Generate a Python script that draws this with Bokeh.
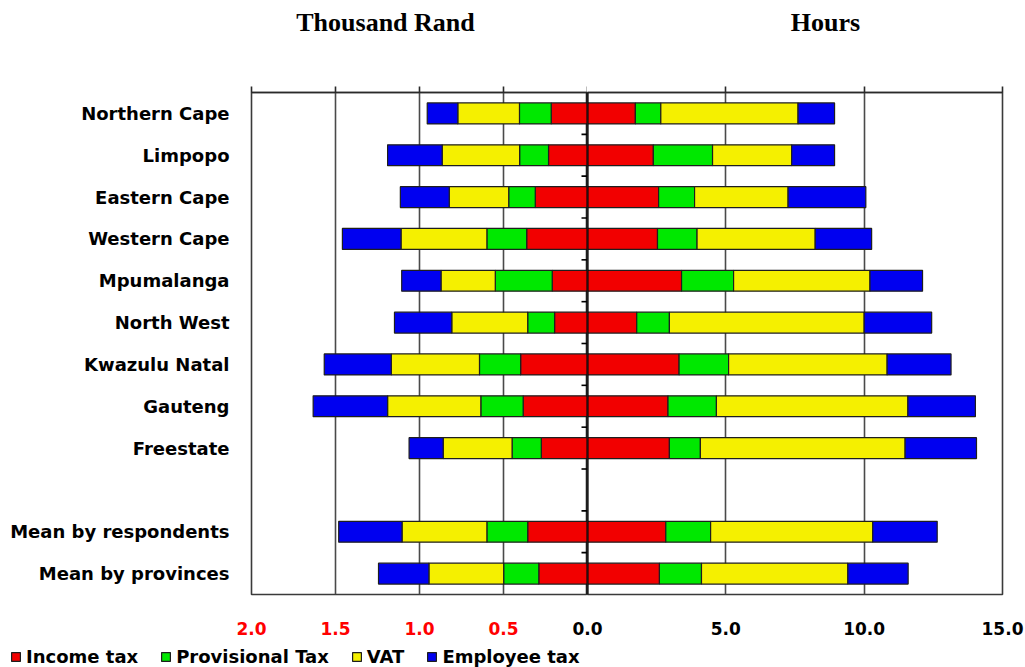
import numpy as np
from bokeh.plotting import figure
from bokeh.layouts import row, column
from bokeh.models import (Range1d, LinearAxis, FixedTicker, Span, Legend, LegendItem,
                          Grid, Label, LabelSet, ColumnDataSource)
from bokeh.core.properties import value
from bokeh.embed import file_html
from bokeh.resources import INLINE

# ---- data -------------------------------------------------------------
categories = ["Northern Cape", "Limpopo", "Eastern Cape", "Western Cape", "Mpumalanga",
              "North West", "Kwazulu Natal", "Gauteng", "Freestate",
              "Mean by respondents", "Mean by provinces"]
# row slot of each category (slot 9 is left empty as a separator)
slots = [0, 1, 2, 3, 4, 5, 6, 7, 8, 10, 11]

series = ["Income tax", "Provisional Tax", "VAT", "Employee tax"]

# compliance cost in thousand Rand
income_rand = [0.216, 0.232, 0.311, 0.362, 0.210, 0.196, 0.398, 0.383, 0.275, 0.356, 0.290]
prov_rand = [0.189, 0.172, 0.158, 0.237, 0.339, 0.160, 0.245, 0.252, 0.174, 0.243, 0.209]
vat_rand = [0.367, 0.461, 0.354, 0.511, 0.323, 0.452, 0.525, 0.555, 0.410, 0.505, 0.445]
emp_rand = [0.182, 0.325, 0.291, 0.349, 0.234, 0.341, 0.399, 0.443, 0.203, 0.377, 0.300]

# compliance time in hours
income_hours = [1.73, 2.38, 2.57, 2.53, 3.40, 1.78, 3.31, 2.91, 2.96, 2.83, 2.60]
prov_hours = [0.92, 2.14, 1.30, 1.43, 1.88, 1.18, 1.79, 1.75, 1.12, 1.62, 1.52]
vat_hours = [4.96, 2.86, 3.38, 4.27, 4.93, 7.04, 5.73, 6.92, 7.40, 5.86, 5.29]
emp_hours = [1.32, 1.55, 2.81, 2.04, 1.90, 2.44, 2.31, 2.44, 2.58, 2.33, 2.18]

rand_ticks = [2.0, 1.5, 1.0, 0.5]
hours_ticks = [0.0, 5.0, 10.0, 15.0]

# ---- styling / layout ---------------------------------------------------
colors = ["#f20000", "#00e800", "#f5f000", "#0000f0"]
RAND_MAX = 2.0
HOURS_MAX = 15.0
N_SLOTS = 12
LABEL_FONT = "DejaVu Sans"
TITLE_FONT = "Liberation Serif"
TOTAL_W = 1025
TITLE_H, MAIN_H, FOOT_H = 50, 562, 55
FRAME_TOP, FRAME_BOTTOM = 42, 18
LEFT_W = 587                      # the zero line sits at this x
RIGHT_W = TOTAL_W - LEFT_W
LEFT_BORDER, RIGHT_BORDER = 251, 23
BAR_LINE = dict(line_color="#1e1e1e", line_width=1.2)

px_per_rand = (LEFT_W - LEFT_BORDER) / RAND_MAX
px_per_hour = (RIGHT_W - RIGHT_BORDER) / HOURS_MAX
slot_y = [s + 0.5 for s in slots]


def bare_figure(height, x_range, y_range):
    f = figure(width=TOTAL_W, height=height, output_backend="svg", toolbar_location=None,
               x_range=x_range, y_range=y_range, x_axis_type=None, y_axis_type=None,
               min_border_left=0, min_border_right=0, min_border_top=0, min_border_bottom=0)
    f.outline_line_color = None
    f.grid.visible = False
    return f


def base_figure(width, x_range, border_left, border_right):
    f = figure(width=width, height=MAIN_H, output_backend="svg", toolbar_location=None,
               x_range=x_range, y_range=Range1d(N_SLOTS, 0),
               x_axis_type=None, y_axis_type=None,
               min_border_left=border_left, min_border_right=border_right,
               min_border_top=FRAME_TOP, min_border_bottom=FRAME_BOTTOM)
    f.outline_line_color = "#3a3a3a"
    f.outline_line_width = 1.6
    f.background_fill_color = "white"
    f.border_fill_color = "white"
    return f


def add_grid(f, ticks, grid):
    f.add_layout(Grid(dimension=0, ticker=FixedTicker(ticks=grid),
                      grid_line_color="#4a4a4a", grid_line_width=1.6))
    top = LinearAxis(ticker=FixedTicker(ticks=ticks), major_tick_out=6, major_tick_in=0,
                     major_tick_line_color="#2a2a2a", major_tick_line_width=1.6,
                     minor_tick_line_color=None, axis_line_color="#2a2a2a",
                     axis_line_width=1.6, major_label_text_color=None,
                     major_label_text_font_size="1px", major_label_standoff=0)
    f.add_layout(top, "above")


def add_bars(f, vals):
    vals = np.array(vals)
    ends = np.cumsum(vals, axis=0)
    return [f.hbar(y=slot_y, left=ends[i] - vals[i], right=ends[i], height=0.5,
                   fill_color=colors[i], **BAR_LINE)
            for i in range(len(series))]


# ---- side titles --------------------------------------------------------
titles = bare_figure(TITLE_H, Range1d(0, 1), Range1d(0, 1))
for txt, sx in [("Thousand Rand", 385), ("Hours", 825)]:
    titles.add_layout(Label(x=sx, y=TITLE_H - 22, x_units="screen", y_units="screen", text=txt,
                            text_align="center", text_baseline="middle",
                            text_font=TITLE_FONT, text_font_style="bold",
                            text_font_size="26px", text_color="black"))

# ---- left half: thousand Rand, growing leftwards ------------------------
left = base_figure(LEFT_W, Range1d(RAND_MAX, 0), LEFT_BORDER, 0)
add_grid(left, [0.0] + rand_ticks, rand_ticks[1:])

yaxis = LinearAxis(ticker=FixedTicker(ticks=slot_y),
                   major_label_overrides={y: c for y, c in zip(slot_y, categories)},
                   axis_line_color=None, major_tick_line_color=None, minor_tick_line_color=None,
                   major_label_standoff=16, major_label_text_font=LABEL_FONT,
                   major_label_text_font_style="bold", major_label_text_font_size="18px",
                   major_label_text_color="black")
left.add_layout(yaxis, "left")

add_bars(left, [income_rand, prov_rand, vat_rand, emp_rand])

# zero line with short ticks between the rows
left.add_layout(Span(location=0, dimension="height", line_color="black", line_width=2))
bounds = list(range(1, N_SLOTS))
left.segment(x0=[0.0] * len(bounds), x1=[6 / px_per_rand] * len(bounds),
             y0=bounds, y1=bounds, line_color="black", line_width=1.6)

# ---- right half: hours --------------------------------------------------
right = base_figure(RIGHT_W, Range1d(0, HOURS_MAX), 0, RIGHT_BORDER)
add_grid(right, hours_ticks[1:], hours_ticks[1:-1])
add_bars(right, [income_hours, prov_hours, vat_hours, emp_hours])
right.add_layout(Span(location=0, dimension="height", line_color="black", line_width=2))

# ---- footer: scale labels and legend ------------------------------------
# the footer spans the full width, on the same hours / Rand scales as the plot
foot = bare_figure(FOOT_H,
                   Range1d(-LEFT_W / px_per_hour, RIGHT_W / px_per_hour),
                   Range1d(-1001, -1000))
foot.extra_x_ranges = {"rand": Range1d(LEFT_W / px_per_rand, -RIGHT_W / px_per_rand)}

tick_style = dict(y=39, y_units="screen", text="text", text_align="center",
                  text_baseline="middle", text_font=value(LABEL_FONT),
                  text_font_style="bold", text_font_size="17px")
rand_src = ColumnDataSource(dict(x=rand_ticks, text=[f"{t:.1f}" for t in rand_ticks]))
hours_src = ColumnDataSource(dict(x=hours_ticks, text=[f"{t:.1f}" for t in hours_ticks]))
foot.add_layout(LabelSet(x="x", source=rand_src, x_range_name="rand",
                         text_color="#ff0000", **tick_style))
foot.add_layout(LabelSet(x="x", source=hours_src, text_color="black", **tick_style))

# legend swatches come from hidden copies of the hours bars
key_renderers = add_bars(foot, [income_hours, prov_hours, vat_hours, emp_hours])
for r in key_renderers:
    r.visible = False
legend = Legend(items=[LegendItem(label=n, renderers=[r]) for n, r in zip(series, key_renderers)],
                location=(10, 0), orientation="horizontal",
                glyph_width=11, glyph_height=11, label_standoff=5, spacing=22,
                padding=0, margin=0, border_line_color=None, background_fill_alpha=0,
                label_text_font=LABEL_FONT, label_text_font_style="bold",
                label_text_font_size="18px", label_text_color="black")
foot.add_layout(legend)

layout = column(titles, row(left, right, spacing=0), foot, spacing=0)
open("out.html", "w").write(file_html(layout, INLINE))
